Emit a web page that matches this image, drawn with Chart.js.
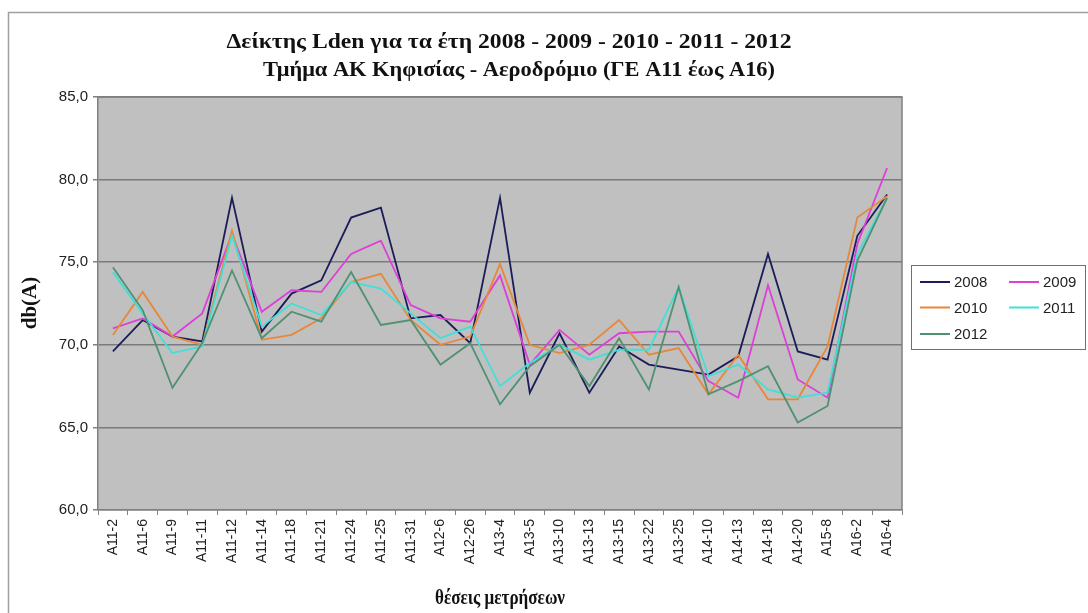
<!DOCTYPE html>
<html>
<head>
<meta charset="utf-8">
<script src="https://cdn.jsdelivr.net/npm/chart.js@4/dist/chart.umd.min.js"></script>
<style>
  html, body { margin: 0; padding: 0; background: #ffffff; }
  #wrap { width: 1088px; height: 613px; position: relative; }
</style>
</head>
<body>
<div id="wrap"><canvas id="c" width="1088" height="613"></canvas></div>
<script>
const titleLine1 = "Δείκτης Lden για τα έτη 2008 - 2009 - 2010 - 2011 - 2012";
const titleLine2 = "Τμήμα ΑΚ Κηφισίας - Αεροδρόμιο (ΓΕ Α11 έως Α16)";
const yAxisTitle = "db(A)";
const xAxisTitle = "θέσεις μετρήσεων";

const categories = ["A11-2","A11-6","A11-9","A11-11","A11-12","A11-14","A11-18","A11-21","A11-24","A11-25","A11-31","A12-6","A12-26","A13-4","A13-5","A13-10","A13-13","A13-15","A13-22","A13-25","A14-10","A14-13","A14-18","A14-20","A15-8","A16-2","A16-4"];

const seriesNames = ["2008","2009","2010","2011","2012"];
const y2008 = [69.6,71.5,70.5,70.2,78.9,70.8,73.1,73.9,77.7,78.3,71.6,71.8,70.1,78.9,67.1,70.7,67.1,69.9,68.8,68.5,68.2,69.3,75.5,69.6,69.1,76.6,79.1];
const y2009 = [71.0,71.6,70.5,71.9,76.7,72.0,73.3,73.2,75.5,76.3,72.4,71.6,71.4,74.2,68.8,70.9,69.4,70.7,70.8,70.8,67.8,66.8,73.6,67.9,66.8,76.1,80.7];
const y2010 = [70.6,73.2,70.5,70.0,76.9,70.3,70.6,71.6,73.8,74.3,71.5,70.0,70.5,74.9,70.0,69.5,70.0,71.5,69.4,69.8,67.0,69.4,66.7,66.7,69.9,77.7,79.0];
const y2011 = [74.4,71.9,69.5,69.9,76.6,71.1,72.5,71.8,73.8,73.4,71.9,70.4,71.1,67.5,68.9,70.0,69.1,69.7,69.7,73.5,68.1,68.8,67.3,66.8,67.1,75.5,78.9];
const y2012 = [74.7,72.1,67.4,70.1,74.5,70.4,72.0,71.4,74.4,71.2,71.5,68.8,70.1,66.4,68.7,70.0,67.5,70.4,67.3,73.5,67.0,67.8,68.7,65.3,66.3,75.1,78.9];

const yMin = 60, yMax = 85, yStep = 5;

const seriesColors = ["#1c1c5a", "#dd3fd8", "#e8873a", "#3fe0d8", "#4f9170"];

const allSeries = [y2008, y2009, y2010, y2011, y2012];

const datasets = allSeries.map((arr, i) => ({
  label: seriesNames[i],
  data: arr,
  borderColor: seriesColors[i],
  backgroundColor: seriesColors[i],
  borderWidth: 1.8,
  pointRadius: 0,
  tension: 0,
  fill: false,
  order: allSeries.length - i
}));

const decorPlugin = {
  id: 'decor',
  beforeDraw(chart) {
    const ctx = chart.ctx;
    const a = chart.chartArea;
    ctx.save();
    ctx.fillStyle = '#ffffff';
    ctx.fillRect(0, 0, chart.width, chart.height);
    ctx.strokeStyle = '#a0a0a0';
    ctx.lineWidth = 1.5;
    ctx.beginPath();
    ctx.moveTo(8.5, chart.height + 2);
    ctx.lineTo(8.5, 12.5);
    ctx.lineTo(chart.width + 2, 12.5);
    ctx.stroke();
    ctx.fillStyle = '#c0c0c0';
    ctx.fillRect(a.left, a.top, a.right - a.left, a.bottom - a.top);
    ctx.restore();
  },
  afterDraw(chart) {
    const ctx = chart.ctx;
    const a = chart.chartArea;
    ctx.save();
    ctx.strokeStyle = '#808080';
    ctx.lineWidth = 1.5;
    ctx.beginPath();
    ctx.moveTo(a.left, a.top);
    ctx.lineTo(a.right, a.top);
    ctx.lineTo(a.right, a.bottom);
    ctx.stroke();

    ctx.fillStyle = '#111111';
    ctx.textAlign = 'center';
    ctx.textBaseline = 'middle';
    const drawScaled = (text, cx, cy, font, targetW) => {
      ctx.save();
      ctx.font = font;
      const w = ctx.measureText(text).width;
      const sx = targetW / w;
      ctx.translate(cx, cy);
      ctx.scale(sx, 1);
      ctx.fillText(text, 0, 0);
      ctx.restore();
    };
    drawScaled(titleLine1, 509, 42, 'bold 22px "Liberation Serif"', 565);
    drawScaled(titleLine2, 519, 70, 'bold 22px "Liberation Serif"', 512);
    drawScaled(xAxisTitle, 500, 599, 'bold 20px "Liberation Serif"', 130);
    ctx.save();
    ctx.translate(31, 303);
    ctx.rotate(-Math.PI / 2);
    ctx.font = 'bold 21px "Liberation Serif"';
    ctx.fillText(yAxisTitle, 0, 0);
    ctx.restore();

    const lx = 911, ly = 265, lw = 174, lh = 84;
    ctx.fillStyle = '#ffffff';
    ctx.fillRect(lx, ly, lw, lh);
    ctx.strokeStyle = '#707070';
    ctx.lineWidth = 1;
    ctx.strokeRect(lx + 0.5, ly + 0.5, lw, lh);
    ctx.font = '15px "Liberation Sans"';
    ctx.textAlign = 'left';
    ctx.textBaseline = 'middle';
    const rows = [282, 307.5, 334];
    const cols = [920, 1009];
    chart.data.datasets.forEach((ds, i) => {
      const r = Math.floor(i / 2), c = i % 2;
      const x0 = cols[c], y0 = rows[r];
      ctx.strokeStyle = ds.borderColor;
      ctx.lineWidth = 2;
      ctx.beginPath();
      ctx.moveTo(x0, y0);
      ctx.lineTo(x0 + 30, y0);
      ctx.stroke();
      ctx.fillStyle = '#222222';
      ctx.fillText(ds.label, x0 + 34, y0 + 1);
    });
    ctx.restore();
  }
};

new Chart(document.getElementById('c'), {
  type: 'line',
  data: { labels: categories, datasets: datasets },
  options: {
    responsive: false,
    animation: false,
    devicePixelRatio: 1,
    layout: { padding: { left: 38, top: 97, right: 186, bottom: 0 } },
    plugins: {
      legend: { display: false },
      title: { display: false },
      tooltip: { enabled: false }
    },
    scales: {
      x: {
        offset: true,
        afterFit(s) { s.height = 103; },
        grid: {
          offset: true,
          drawOnChartArea: false,
          drawTicks: true,
          tickLength: 5,
          color: '#808080',
          lineWidth: 1
        },
        border: { color: '#808080', width: 1.5 },
        ticks: {
          autoSkip: false,
          minRotation: 90,
          maxRotation: 90,
          padding: 4,
          color: '#222222',
          font: { family: '"Liberation Sans"', size: 14 }
        }
      },
      y: {
        min: yMin,
        max: yMax,
        afterFit(s) { s.width = 60; },
        grid: {
          color: '#7a7a7a',
          lineWidth: 1.5,
          drawTicks: true,
          tickLength: 5,
          tickColor: '#808080'
        },
        border: { color: '#808080', width: 1.5 },
        ticks: {
          stepSize: yStep,
          padding: 5,
          color: '#222222',
          font: { family: '"Liberation Sans"', size: 15 },
          callback: (v) => v.toFixed(1).replace('.', ',')
        }
      }
    }
  },
  plugins: [decorPlugin]
});
</script>
</body>
</html>
